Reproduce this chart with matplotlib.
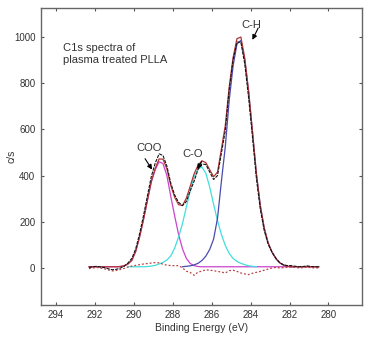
import numpy as np
import matplotlib.pyplot as plt

plt.rcParams['font.family'] = ['Liberation Sans', 'DejaVu Sans']

# binding energy grid (eV), 292.3 -> 280.5 in 0.2 eV steps
energy = np.round(np.linspace(292.3, 280.5, 60), 1)

BACKGROUND = 5

# fitted components (counts above background) on the energy grid
coo = [0, 0, 0, 0, 0, 0, 0, 0, 1, 4,
       12, 28, 67, 130, 205, 287, 367, 420, 455, 447,
       395, 305, 220, 140, 78, 36, 14, 5, 1, 0,
       0, 0, 0, 0, 0, 0, 0, 0, 0, 0,
       0, 0, 0, 0, 0, 0, 0, 0, 0, 0,
       0, 0, 0, 0, 0, 0, 0, 0, 0, 0]
c_o = [0, 0, 0, 0, 0, 0, 0, 0, 0, 0,
       0, 0, 0, 0, 0, 1, 3, 6, 12, 19,
       29, 47, 81, 129, 187, 259, 331, 390, 424, 432,
       405, 345, 270, 200, 140, 92, 58, 36, 23, 15,
       9, 4, 2, 0, 0, 0, 0, 0, 0, 0,
       0, 0, 0, 0, 0, 0, 0, 0, 0, 0]
c_h = [0, 0, 0, 0, 0, 0, 0, 0, 0, 0,
       0, 0, 0, 0, 0, 0, 0, 0, 0, 0,
       0, 0, 0, 0, 0, 2, 4, 8, 15, 27,
       46, 75, 120, 210, 370, 520, 720, 870, 965, 980,
       895, 755, 580, 400, 263, 167, 103, 63, 35, 17,
       7, 2, 0, 0, 0, 0, 0, 0, 0, 0]

# residual = measured - fit
residual = [-3, 0, 2, -1, -4, -9, -13, -11, -7, -2,
            4, 8, 11, 14, 17, 19, 21, 23, 22, 16,
            12, 10, 10, 10, 0, -14, -20, -32, -18, -14,
            -8, -10, -12, -15, -18, -22, -12, -10, -15, -22,
            -26, -29, -23, -19, -15, -10, -5, 0, 2, 0,
            1, 3, 5, 2, 0, 1, 4, 1, 0, 0]

coo = np.array(coo)
c_o = np.array(c_o)
c_h = np.array(c_h)
residual = np.array(residual)
fit = BACKGROUND + coo + c_o + c_h
measured = fit + residual

fig = plt.figure(figsize=(3.72, 3.41), dpi=100)
ax = fig.add_axes([0.110, 0.106, 0.862, 0.870])

lw = 0.9
ax.plot(energy, BACKGROUND + coo, color='#cc44cc', lw=lw)
ax.plot(energy[10:44], BACKGROUND + c_o[10:44], color='#44dddd', lw=lw)
ax.plot(energy[24:53], BACKGROUND + c_h[24:53], color='#4a4ab0', lw=lw)
ax.plot(energy, residual, color='#b84444', lw=0.9, linestyle=(0, (1.5, 1.6)))
ax.plot(energy, fit, color='#b03535', lw=lw)
ax.plot(energy, measured, color='#151515', lw=0.8, linestyle=(0, (3, 1)))

ax.set_xlim(294.77, 278.3)
ax.set_ylim(-160, 1125)
ax.set_xticks([294, 292, 290, 288, 286, 284, 282, 280])
ax.set_yticks([0, 200, 400, 600, 800, 1000])
ax.tick_params(direction='in', length=2.5, width=0.8, color='#555555',
               labelsize=7, labelcolor='#333333', top=True, right=True, pad=4)
for s in ax.spines.values():
    s.set_color('#666666')
    s.set_linewidth(1.0)

ax.set_xlabel('Binding Energy (eV)', fontsize=7.5, color='#333333', labelpad=2)
ax.set_ylabel('c/s', fontsize=7.5, color='#333333')
ax.yaxis.set_label_coords(-0.075, 0.5)

ax.text(293.65, 975, 'C1s spectra of\nplasma treated PLLA', fontsize=8,
        color='#333333', ha='left', va='top', linespacing=1.25)

# peak labels with short arrows
arrow = dict(arrowstyle='-|>', color='black', lw=0.8, mutation_scale=7,
             shrinkA=0, shrinkB=0)
labels = [('COO', (289.22, 521), (289.42, 473), (289.06, 426)),
          ('C-O', (286.96, 495), (286.51, 461), (286.74, 428)),
          ('C-H', (283.95, 1050), (283.61, 1039), (283.91, 988))]
for name, pos, tail, head in labels:
    ax.text(pos[0], pos[1], name, fontsize=8, color='#333333',
            ha='center', va='center')
    ax.annotate('', xy=head, xytext=tail, arrowprops=arrow)

fig.savefig('out.png', dpi=100)
